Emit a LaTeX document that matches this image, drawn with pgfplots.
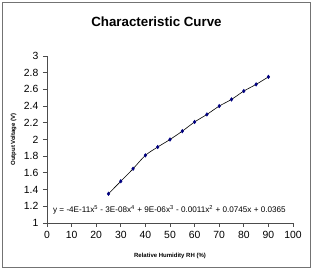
\documentclass[border=0pt]{standalone}
\usepackage{fontspec}
\setmainfont{Liberation Sans}
\usepackage{pgfplots}
\pgfplotsset{compat=1.18}
\definecolor{navy}{RGB}{0,0,128}
\begin{document}
\begin{tikzpicture}
\begin{axis}[
  name=ax,
  scale only axis,
  width=184.5pt, height=125.25pt,
  xmin=0, xmax=100, ymin=1, ymax=3,
  xtick={0,10,...,100},
  ytick={1,1.2,...,3.01},
  axis lines=left,
  axis line style={-, black!70, line width=0.6pt},
  tick style={black!70, line width=0.6pt},
  tick align=outside,
  major tick length=3pt,
  tick label style={font=\fontsize{7.8}{8}\selectfont},
  /pgf/number format/assume math mode=true,
  yticklabel style={/pgf/number format/fixed},
  xlabel={\bfseries Relative Humidity RH (\%)},
  ylabel={\bfseries Output Voltage (V)},
  xlabel style={font=\fontsize{4.5}{5}\selectfont, at={(axis description cs:0.5,0)}, anchor=center, yshift=-24.75pt},
  ylabel style={font=\fontsize{4.5}{5}\selectfont, at={(axis description cs:0,0.5)}, anchor=center, yshift=25pt},
  clip=false,
]
\addplot[black, line width=0.45pt, smooth, no marks] coordinates {
(25,1.35) (30,1.50) (35,1.65) (40,1.81) (45,1.91) (50,2.00) (55,2.10) (60,2.21) (65,2.30) (70,2.40) (75,2.48) (80,2.58) (85,2.66) (90,2.75)
};
\addplot[only marks, mark=diamond*, mark size=1.3pt, navy] coordinates {
(25,1.35) (30,1.50) (35,1.65) (40,1.81) (45,1.91) (50,2.00) (55,2.10) (60,2.21) (65,2.30) (70,2.40) (75,2.48) (80,2.58) (85,2.66) (90,2.75)
};
\node[anchor=west, inner sep=0pt, font=\fontsize{6.1}{7}\selectfont] at (axis cs:2.4,1.155)
 {y = -4E-11x\textsuperscript{5} - 3E-08x\textsuperscript{4} + 9E-06x\textsuperscript{3} - 0.0011x\textsuperscript{2} + 0.0745x + 0.0365};
\end{axis}
\draw[black!55, line width=0.75pt] ([xshift=-33pt,yshift=-33.75pt]ax.south west) rectangle ([xshift=12.75pt,yshift=39.75pt]ax.north east);
\path ([xshift=-35.25pt,yshift=-37.5pt]ax.south west) rectangle ([xshift=15pt,yshift=42pt]ax.north east);
\node[font=\fontsize{10}{12}\selectfont\bfseries] at ([xshift=82.1pt,yshift=25.5pt]ax.north west) {Characteristic Curve};
\end{tikzpicture}
\end{document}
